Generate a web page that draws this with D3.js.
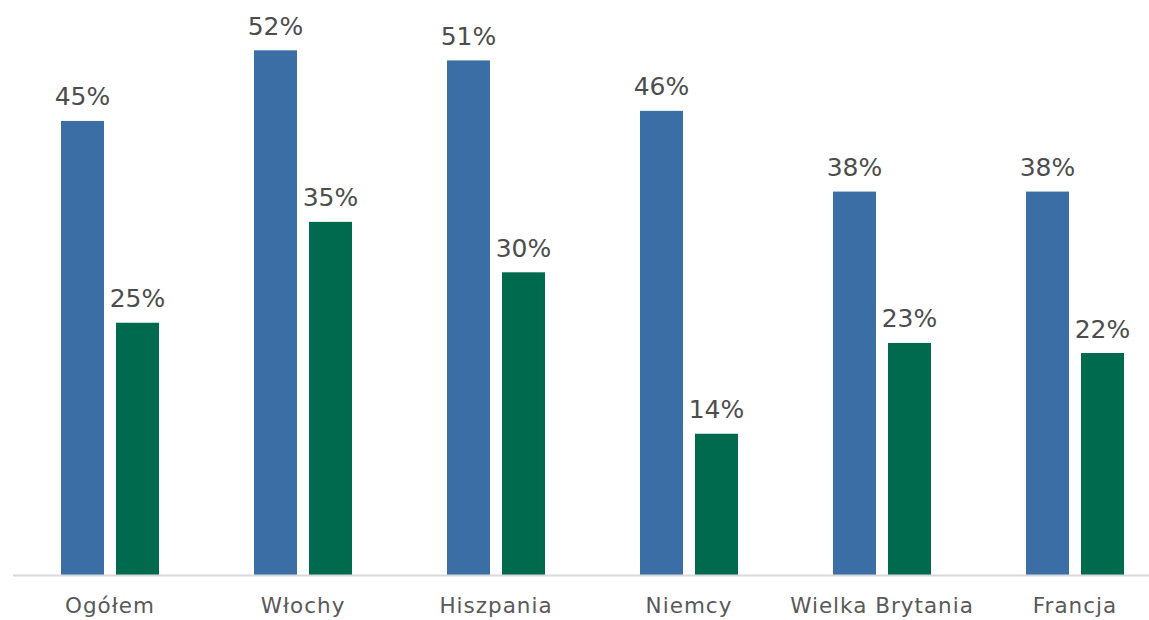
<!DOCTYPE html>
<html><head><meta charset="utf-8">
<script src="https://cdn.jsdelivr.net/npm/d3@7"></script>
<style>body{margin:0;background:#fff}svg{display:block}</style>
</head><body>
<script>
const categories = ["Ogółem","Włochy","Hiszpania","Niemcy","Wielka Brytania","Francja"];
const seriesA = [45,52,51,46,38,38];
const seriesB = [25,35,30,14,23,22];
const seriesNames = ["A","B"];
const colors = ["#3b6ea5","#006a4e"];

const W=1149,H=620;
const svg=d3.select("body").append("svg").attr("width",W).attr("height",H);
const x=d3.scaleBand().domain(categories).range([13.5,1171.5]).paddingInner(0).paddingOuter(0);
const x1=d3.scaleBand().domain(seriesNames).range([47.5,145.5]).paddingInner(12/55);
const y=d3.scaleLinear().domain([0,57]).range([575,575-57*10.09]);
const data=categories.map((c,i)=>({c,vals:[seriesA[i],seriesB[i]]}));
const font="'DejaVu Sans', sans-serif";
const g=svg.selectAll("g.grp").data(data).enter().append("g").attr("transform",d=>`translate(${x(d.c)},0)`);
g.selectAll("rect").data(d=>d.vals.map((v,k)=>({v,k}))).enter().append("rect")
 .attr("x",d=>x1(seriesNames[d.k])).attr("width",x1.bandwidth())
 .attr("y",d=>y(d.v)).attr("height",d=>y(0)-y(d.v)).attr("fill",d=>colors[d.k]);
g.selectAll("text").data(d=>d.vals.map((v,k)=>({v,k}))).enter().append("text")
 .attr("x",d=>x1(seriesNames[d.k])+x1.bandwidth()/2).attr("y",d=>y(d.v)-15.5)
 .attr("text-anchor","middle").attr("font-family",font).attr("font-size",25).attr("fill","#4d4d4d")
 .text(d=>d.v+"%");
svg.append("line").attr("x1",13).attr("x2",W).attr("y1",575.5).attr("y2",575.5).attr("stroke","#d9d9d9").attr("stroke-width",2);
const ax=d3.axisBottom(x).tickSize(0).tickPadding(0);
const axg=svg.append("g").call(ax);
axg.select(".domain").remove();
axg.selectAll("text").attr("y",613).attr("dy",null).attr("font-family",font).attr("font-size",21.5).attr("letter-spacing",1).attr("fill","#595959");
</script>
</body></html>
